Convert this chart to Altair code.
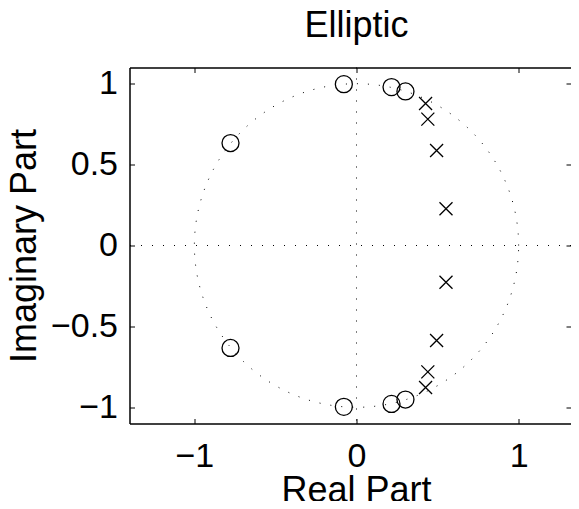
import altair as alt
import pandas as pd

# Zeros (o) and poles (x)
zero_re = [-0.078, 0.216, 0.302, -0.777, -0.777, -0.078, 0.216, 0.302]
zero_im = [0.997, 0.979, 0.952, 0.633, -0.633, -0.997, -0.979, -0.952]
pole_re = [0.426, 0.440, 0.494, 0.552, 0.552, 0.494, 0.440, 0.426]
pole_im = [0.878, 0.781, 0.587, 0.227, -0.227, -0.587, -0.781, -0.878]

x_ticks = [-1, 0, 1]
y_ticks = [-1, -0.5, 0, 0.5, 1]
x_domain = [-1.4, 1.323]   # right side of the axes box runs off the picture
y_domain = [-1.1, 1.1]
ref_zero = [0]

FONT = "Liberation Sans"

zeros = pd.DataFrame({"re": zero_re, "im": zero_im})
poles = pd.DataFrame({"re": pole_re, "im": pole_im})
zline = pd.DataFrame({"v": ref_zero})

xs = alt.Scale(domain=x_domain, nice=False, zero=False)
ys = alt.Scale(domain=y_domain, nice=False, zero=False)

tick_common = dict(tickSize=5, offset=-5, domain=False, grid=False, tickColor="black",
                   tickWidth=1, labelColor="black", titleColor="black",
                   labelFont=FONT, titleFont=FONT)
frame_common = dict(offset=0, domain=True, domainColor="black", domainWidth=1.5,
                    ticks=False, labels=False, grid=False, title=None)

bottom_axis = alt.Axis(orient="bottom", values=x_ticks, format=".0f",
                       labelPadding=43, labelBaseline="alphabetic", labelFontSize=34,
                       title="Real Part", titleFontSize=36, titleFontWeight="normal",
                       titleX=226.5, titleY=83, titleBaseline="alphabetic", **tick_common)
left_axis = alt.Axis(orient="left", values=y_ticks, format=".1~f",
                     labelPadding=12, labelFontSize=34,
                     title="Imaginary Part", titleFontSize=36, titleFontWeight="normal",
                     titleX=-99, titleBaseline="alphabetic", **tick_common)
top_axis = alt.Axis(orient="top", values=x_ticks, labels=False,
                    title="Elliptic", titleFontSize=36, titleFontWeight="normal",
                    titleX=226.5, titleY=-36, titleBaseline="alphabetic", **tick_common)
right_axis = alt.Axis(orient="right", values=y_ticks, labels=False, title=None,
                      **tick_common)

bottom_frame = alt.Axis(orient="bottom", **frame_common)
top_frame = alt.Axis(orient="top", **frame_common)
left_frame = alt.Axis(orient="left", **frame_common)

dotted = dict(color="black", strokeWidth=1, strokeDash=[1, 10])

unit_circle = (
    alt.Chart(alt.sequence(0, 362, 2, as_="t"))
    .transform_calculate(cx="cos(datum.t*PI/180)", cy="sin(datum.t*PI/180)")
    .mark_line(**dotted)
    .encode(x=alt.X("cx:Q", scale=xs, axis=bottom_frame),
            y=alt.Y("cy:Q", scale=ys, axis=left_frame),
            order="t:Q")
)

hline = alt.Chart(zline).mark_rule(**dotted).encode(y=alt.Y("v:Q", scale=ys, axis=None))
vline = alt.Chart(zline).mark_rule(**dotted).encode(x=alt.X("v:Q", scale=xs, axis=top_frame))

zero_layer = alt.Chart(zeros).mark_point(
    shape="circle", filled=False, size=289, strokeWidth=1.3, color="black", opacity=1
).encode(x=alt.X("re:Q", scale=xs, axis=bottom_axis),
         y=alt.Y("im:Q", scale=ys, axis=left_axis))

pole_layer = alt.Chart(poles).mark_point(
    shape="M-1,-1L1,1M1,-1L-1,1", filled=False, size=169, strokeWidth=1.3,
    color="black", opacity=1
).encode(x=alt.X("re:Q", scale=xs, axis=top_axis),
         y=alt.Y("im:Q", scale=ys, axis=right_axis))

chart = (
    alt.layer(unit_circle, hline, vline, zero_layer, pole_layer)
    .resolve_axis(x="independent", y="independent")
    .properties(
        width=441.5, height=356,
        autosize=alt.AutoSizeParams(type="none"),
        padding={"left": 121.5, "top": 59.5, "right": 0, "bottom": 77},
        background="white",
    )
    .configure_view(stroke=None)
)

chart.save("out.html", embed_options={"renderer": "svg", "actions": False})
